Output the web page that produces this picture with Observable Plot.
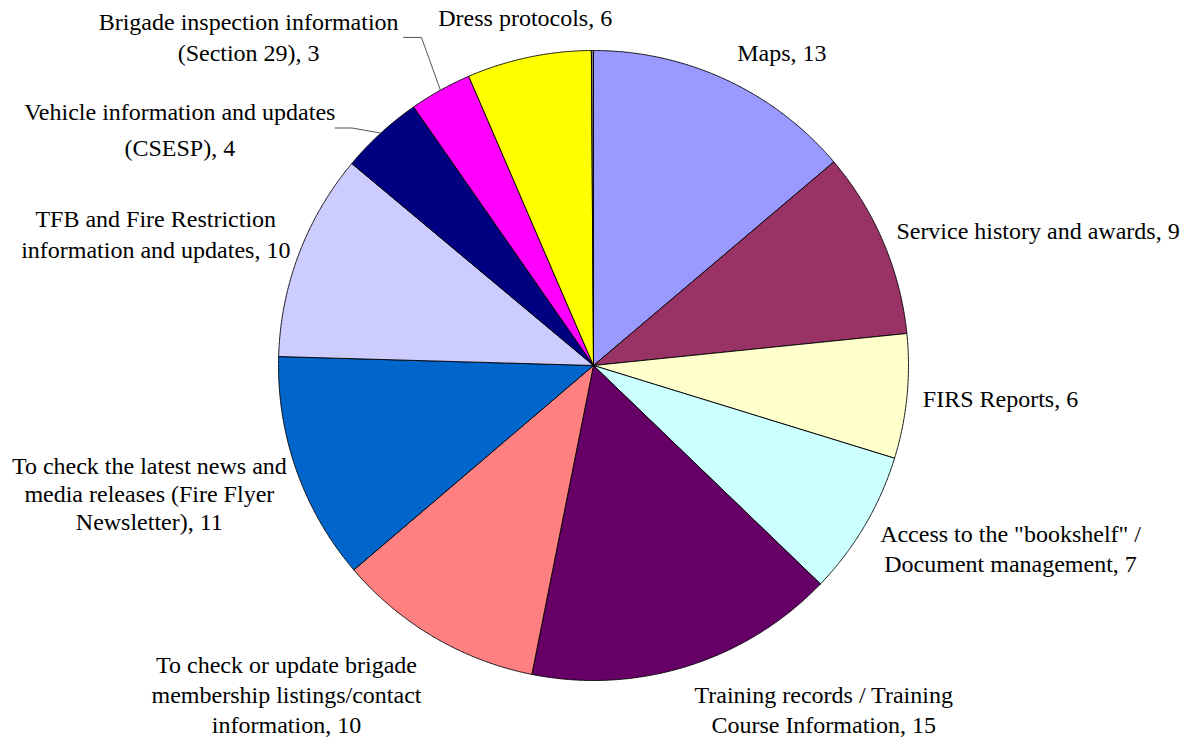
<!DOCTYPE html>
<html>
<head>
<meta charset="utf-8">
<script src="https://cdn.jsdelivr.net/npm/d3@7"></script>
<script src="https://cdn.jsdelivr.net/npm/@observablehq/plot@0.6"></script>
<style>
  html, body { margin: 0; padding: 0; background: #ffffff; }
  #chart svg { display: block; }
  #chart svg text { font-family: "Liberation Serif", "Times New Roman", serif !important; }
</style>
</head>
<body>
<div id="chart"></div>
<script>
// ---- Data (clockwise from 12 o'clock) ----
const categories = [
  "Maps",
  "Service history and awards",
  "FIRS Reports",
  "Access to the \"bookshelf\" /\nDocument management",
  "Training records / Training\nCourse Information",
  "To check or update brigade\nmembership listings/contact\ninformation",
  "To check the latest news and\nmedia releases (Fire Flyer\nNewsletter)",
  "TFB and Fire Restriction\ninformation and updates",
  "Vehicle information and updates\n(CSESP)",
  "Brigade inspection information\n(Section 29)",
  "Dress protocols",
  "Other"
];
const values = [13, 9, 6, 7, 15, 10, 11, 10, 4, 3, 6, 0.1];
const showLabel = [true, true, true, true, true, true, true, true, true, true, true, false];

// ---- Styles / layout ----
const sliceColors = ["#9999FF", "#993366", "#FFFFCC", "#CCFFFF", "#660066", "#FF8080",
                     "#0066CC", "#CCCCFF", "#000080", "#FF00FF", "#FFFF00", "#808080"];
// label placement relative to slice mid-angle: [angle offset (deg), radius (in pie radii)]
const labelPlacement = [[6.1, 1.162], [6.0, 1.476], [-1.2, 1.296], [-6.9, 1.445], [-16.5, 1.31],
                        [12.7, 1.426], [3.4, 1.467], [-3.9, 1.452], [-17.5, 1.517], [-17.2, 1.515],
                        [0.8, 1.13], [0, 1.1]];
const labelLineHeight = [1.25, 1.25, 1.25, 1.25, 1.25, 1.25, 1.16, 1.3, 1.53, 1.28, 1.25, 1.25];
// leader lines for some labels: [elbow angle offset (deg), elbow radius, horizontal run (pie radii)]
const leaderPlacement = {8: [-3.0, 1.075, -0.054], 9: [1.4, 1.176, -0.057]};

const data = categories.map((c, i) => ({
  i, category: c, value: values[i], color: sliceColors[i],
  label: c + ", " + values[i]
}));

const arcs = d3.pie().sort(null).value(d => d.value)(data);
const polar = (a, r) => [r * Math.sin(a), r * Math.cos(a)];
const deg = Math.PI / 180;

// slice outlines (data space, unit radius)
const slicePts = [];
for (const a of arcs) {
  const n = Math.max(2, Math.ceil((a.endAngle - a.startAngle) / (0.25 * deg)));
  slicePts.push({key: a.data.i, x: 0, y: 0, color: a.data.color});
  for (let k = 0; k <= n; k++) {
    const t = a.startAngle + (a.endAngle - a.startAngle) * k / n;
    const [x, y] = polar(t, 1);
    slicePts.push({key: a.data.i, x, y, color: a.data.color});
  }
  slicePts.push({key: a.data.i, x: 0, y: 0, color: a.data.color});
}

// labels
const labelRows = arcs.filter(a => showLabel[a.data.i]).map(a => {
  const mid = (a.startAngle + a.endAngle) / 2;
  const [off, r] = labelPlacement[a.data.i];
  const [x, y] = polar(mid + off * deg, r);
  return {x, y, text: a.data.label, lh: labelLineHeight[a.data.i]};
});

// leader lines
const leaderPts = [];
for (const a of arcs) {
  const lp = leaderPlacement[a.data.i];
  if (!lp) continue;
  const mid = (a.startAngle + a.endAngle) / 2;
  const [sx, sy] = polar(mid, 1);
  const [ex, ey] = polar(mid + lp[0] * deg, lp[1]);
  leaderPts.push({key: a.data.i, x: sx, y: sy});
  leaderPts.push({key: a.data.i, x: ex, y: ey});
  leaderPts.push({key: a.data.i, x: ex + lp[2], y: ey});
}

const font = "Liberation Serif, Times New Roman, serif";
const lineHeights = [...new Set(labelRows.map(d => d.lh))];

const chart = Plot.plot({
  width: 1185,
  height: 740,
  marginLeft: 278,
  marginRight: 277,
  marginTop: 50,
  marginBottom: 60,
  x: {domain: [-1, 1], axis: null},
  y: {domain: [-1, 1], axis: null},
  style: {background: "#ffffff", fontFamily: font, overflow: "visible"},
  marks: [
    Plot.line(slicePts, {
      x: "x", y: "y", z: "key",
      fill: "color", stroke: "#000000", strokeWidth: 0.9,
      strokeLinejoin: "round", curve: "linear"
    }),
    Plot.line(leaderPts, {
      x: "x", y: "y", z: "key",
      stroke: "#555555", strokeWidth: 1, curve: "linear"
    }),
    ...lineHeights.map(lh => Plot.text(labelRows.filter(d => d.lh === lh), {
      x: "x", y: "y", text: "text",
      fontSize: 24, fontFamily: font, fill: "#000000",
      textAnchor: "middle", lineAnchor: "middle", lineHeight: lh
    }))
  ]
});
document.getElementById("chart").appendChild(chart);
</script>
</body>
</html>
